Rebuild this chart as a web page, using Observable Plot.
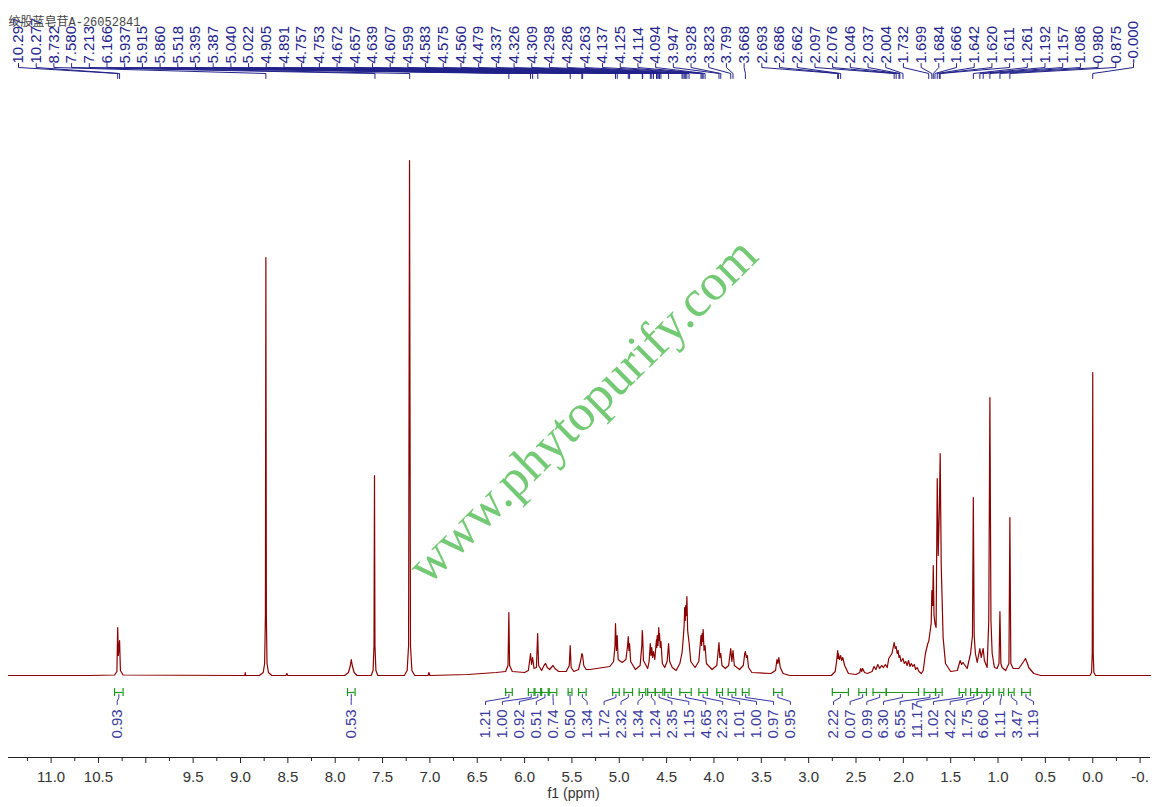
<!DOCTYPE html>
<html><head><meta charset="utf-8">
<script src="https://cdn.jsdelivr.net/npm/d3@7"></script>
<script src="https://cdn.jsdelivr.net/npm/@observablehq/plot@0.6"></script>
<style>body{margin:0;background:#fff}</style>
</head><body><div id="chart"></div>
<script>
const title = "绞股蓝皂苷A-26052841";
const watermark = "www.phytopurify.com";
const axisLabel = "f1 (ppm)";
const axisTicks = [11.0,10.5,10.0,9.5,9.0,8.5,8.0,7.5,7.0,6.5,6.0,5.5,5.0,4.5,4.0,3.5,3.0,2.5,2.0,1.5,1.0,0.5,0.0,-0.5];
const axisTickLabels = ["11.0","10.5","","9.5","9.0","8.5","8.0","7.5","7.0","6.5","6.0","5.5","5.0","4.5","4.0","3.5","3.0","2.5","2.0","1.5","1.0","0.5","0.0","-0."];
const minorTicks = [11.25,10.75,10.25,9.75,9.25,8.75,8.25,7.75,7.25,6.75,6.25,5.75,5.25,4.75,4.25,3.75,3.25,2.75,2.25,1.75,1.25,0.75,0.25,-0.25];

const peakLabels = ["10.297","10.277","8.732","7.580","7.213","6.166","5.937","5.915","5.860","5.518","5.395","5.387","5.040","5.022","4.905","4.891","4.757","4.753","4.672","4.657","4.639","4.607","4.599","4.583","4.575","4.560","4.479","4.337","4.326","4.309","4.298","4.286","4.263","4.137","4.125","4.114","4.094","3.947","3.928","3.823","3.799","3.668","2.693","2.686","2.662","2.097","2.076","2.046","2.037","2.004","1.732","1.699","1.684","1.666","1.642","1.620","1.611","1.261","1.192","1.157","1.086","0.980","0.875","-0.000"];

const integralValues = ["0.93","0.53","1.21","1.00","0.92","0.51","0.74","0.50","1.34","1.72","2.32","1.34","1.24","2.35","1.15","4.65","2.23","1.01","1.00","0.97","0.95","2.22","0.07","0.99","6.30","6.55","11.17","1.02","4.22","1.75","6.60","1.11","3.47","1.19"];
const integralFrom = [10.33,7.87,6.20,5.96,5.89,5.82,5.74,5.54,5.43,5.07,4.95,4.79,4.70,4.62,4.52,4.36,4.16,3.97,3.85,3.70,3.37,2.75,2.47,2.32,2.18,1.78,1.66,1.41,1.29,1.22,1.12,0.99,0.89,0.75];
const integralTo   = [10.24,7.79,6.13,5.90,5.83,5.75,5.66,5.50,5.35,5.00,4.86,4.72,4.62,4.54,4.45,4.24,4.07,3.91,3.77,3.63,3.28,2.58,2.39,2.18,1.84,1.66,1.59,1.34,1.22,1.12,1.05,0.94,0.83,0.66];

// spectrum vertices: [ppm, intensity]
const spectrum = [
[11.45,0],[10.6,0],[10.33,0.5],[10.305,4],[10.297,48],[10.290,20],[10.277,35],[10.268,5],[10.24,0.5],[9.0,0],[8.955,0],[8.95,3],[8.945,0],
[8.80,0],[8.76,3],[8.745,12],[8.737,60],[8.732,418],[8.727,60],[8.72,12],[8.705,3],[8.67,0],
[8.52,0],[8.51,2],[8.50,0],
[7.90,0],[7.86,3],[7.84,10],[7.83,16],[7.82,10],[7.80,3],[7.77,0],
[7.62,0],[7.60,5],[7.59,30],[7.585,200],[7.58,30],[7.57,5],[7.55,0],
[7.27,0],[7.24,5],[7.225,30],[7.215,515],[7.205,30],[7.19,5],[7.16,0],
[7.02,0],[7.01,3],[7.0,0],[6.6,1],
[6.3,3],[6.20,4],[6.175,10],[6.166,63],[6.158,10],[6.13,4],[6.0,3],[5.96,5],[5.945,16],[5.937,22],[5.926,11],[5.915,18],[5.90,7],[5.875,8],[5.862,42],[5.852,10],[5.82,5],[5.795,10],[5.778,12],[5.76,8],[5.735,6],[5.70,10],[5.68,7],[5.64,4],[5.56,4],[5.528,10],[5.518,30],[5.508,8],[5.48,4],[5.43,6],[5.405,16],[5.395,22],[5.387,20],[5.375,10],[5.35,6],[5.31,6],[5.10,9],
[5.06,14],[5.045,30],[5.040,52],[5.030,25],[5.022,40],[5.012,16],[4.97,13],[4.93,16],[4.912,30],[4.905,39],[4.898,25],[4.891,32],[4.88,14],[4.83,6],[4.78,10],[4.762,30],[4.757,45],[4.753,40],[4.745,15],[4.70,7],[4.685,14],[4.672,32],[4.665,20],[4.657,28],[4.648,18],[4.639,24],[4.625,16],[4.607,36],[4.603,28],[4.599,40],[4.591,30],[4.583,48],[4.579,35],[4.575,42],[4.567,28],[4.560,34],[4.545,12],[4.52,8],[4.495,14],[4.479,32],[4.468,14],[4.44,8],[4.40,5],[4.36,12],[4.337,23],[4.326,35],[4.315,50],[4.309,68],[4.303,55],[4.298,70],[4.292,60],[4.286,79],[4.278,45],[4.263,33],[4.245,14],[4.20,8],[4.16,14],[4.137,40],[4.130,30],[4.125,42],[4.119,34],[4.114,46],[4.105,25],[4.094,30],[4.08,12],[4.02,6],[3.97,10],[3.947,33],[3.938,18],[3.928,22],[3.915,10],[3.88,7],[3.845,10],[3.823,27],[3.811,14],[3.799,25],[3.785,10],[3.73,6],[3.69,10],[3.675,22],[3.668,24],[3.658,18],[3.648,20],[3.635,8],[3.60,3],[3.40,2],[3.35,5],[3.335,16],[3.325,12],[3.315,18],[3.30,8],[3.27,2],[3.2,0],
[2.76,0],[2.72,4],[2.705,14],[2.693,25],[2.689,17],[2.686,22],[2.675,16],[2.662,20],[2.652,15],[2.64,18],[2.62,10],[2.58,2],[2.50,1],[2.46,3],[2.45,7],[2.44,4],[2.43,7],[2.41,3],[2.38,2],[2.33,4],[2.31,9],[2.29,6],[2.27,11],[2.25,7],[2.23,10],[2.21,8],[2.19,11],[2.17,8],[2.154,17],[2.12,22],[2.097,33],[2.086,27],[2.076,29],[2.065,22],[2.055,25],[2.046,18],[2.037,20],[2.025,14],[2.004,17],[1.99,12],[1.975,14],[1.96,10],[1.945,15],[1.93,9],[1.915,12],[1.90,9],[1.885,11],[1.87,6],[1.855,8],[1.835,4],[1.81,2],[1.79,5],[1.767,22],[1.742,32],[1.732,34],[1.706,52],[1.699,85],[1.690,70],[1.684,110],[1.676,60],[1.666,52],[1.654,48],[1.642,197],[1.632,120],[1.620,165],[1.611,222],[1.600,110],[1.58,38],[1.555,12],[1.50,4],[1.43,5],[1.40,15],[1.385,11],[1.37,13],[1.326,7],[1.29,22],[1.27,40],[1.261,178],[1.252,40],[1.239,22],[1.22,13],[1.192,27],[1.178,18],[1.157,27],[1.144,15],[1.115,8],[1.098,55],[1.086,278],[1.075,55],[1.062,22],[1.038,8],[1.01,7],[0.99,12],[0.980,64],[0.970,12],[0.957,8],[0.92,5],[0.885,12],[0.875,158],[0.865,12],[0.84,7],[0.78,7],[0.73,14],[0.71,17],[0.69,12],[0.676,8],[0.623,2],[0.55,0],
[0.03,0],[0.012,3],[0.005,22],[0.000,303],[-0.005,22],[-0.012,3],[-0.03,0],[-0.61,0]
];

// ---- layout ----
const W = 1161, H = 807;
const xDom = [11.45, -0.61], xRng = [8, 1150];
const xs = d3.scaleLinear().domain(xDom).range(xRng);
const BASE = 675;
const v = py => BASE - py;          // pixel row -> y value (1 unit = 1 px)
const px2x = p => xs.invert(p);

const NAVY = "#22228a", GREEN = "#1e961e", RED = "#8b0000";

// peak labels evenly spread across the top
const pStep = (1133 - 18) / (peakLabels.length - 1);
const peakRows = peakLabels.map((t, i) => ({t, i, lx: px2x(18 + i * pStep), px: +t}));
const peakLinks = peakRows.flatMap(d => [
  {i: d.i, x: d.lx, y: v(63)}, {i: d.i, x: d.lx, y: v(67)},
  {i: d.i, x: d.px, y: v(73)}, {i: d.i, x: d.px, y: v(78)}
]);

// integrals
function labelPx(i) {
  if (i === 0) return 116.7;
  if (i === 1) return 350.7;
  if (i <= 20) return 485 + (i - 2) * 16.94;
  return 833 + (i - 21) * 16.67;
}
const ints = integralValues.map((t, i) => ({
  t, i, a: integralFrom[i], b: integralTo[i], c: (integralFrom[i] + integralTo[i]) / 2, lx: px2x(labelPx(i))
}));
const intLinks = ints.flatMap(d => [
  {i: d.i, x: d.c, y: v(694)}, {i: d.i, x: d.c, y: v(697)},
  {i: d.i, x: d.lx, y: v(701)}, {i: d.i, x: d.lx, y: v(704)}
]);
const caps = ints.flatMap(d => [d.a, d.b]);

const chart = Plot.plot({
  width: W, height: H,
  marginLeft: xRng[0], marginRight: W - xRng[1], marginTop: 0, marginBottom: 50,
  style: {fontFamily: "'Liberation Sans', Arial, sans-serif", background: "#fff", color: "#333"},
  x: {domain: xDom, range: xRng, axis: null},
  y: {domain: [0, 515], range: [BASE, 160], axis: null},
  marks: [
    // watermark
    Plot.text([watermark], {x: px2x(582), y: v(410), text: d => d, rotate: -44.6, fontSize: 52,
      fontFamily: "'Liberation Serif', 'DejaVu Serif', serif", fill: "#5cbf5c", fillOpacity: 0.85}),
    // spectrum
    Plot.line(spectrum, {x: d => d[0], y: d => d[1], stroke: RED, strokeWidth: 1.2, curve: "linear"}),
    // x axis
    Plot.ruleY([v(757)], {x1: xDom[0], x2: xDom[1], stroke: "#222", strokeWidth: 1.2}),
    Plot.ruleX(axisTicks, {x: d => d, y1: v(757), y2: v(763), stroke: "#222"}),
    Plot.ruleX(minorTicks, {x: d => d, y1: v(757), y2: v(761), stroke: "#222"}),
    Plot.text(axisTicks, {x: d => d, y: v(777), text: (d, i) => axisTickLabels[i], fontSize: 15, fill: "#333"}),
    Plot.text([axisLabel], {x: px2x(573), y: v(793), text: d => d, fontSize: 14, fill: "#333"}),
    // peak labels
    Plot.line(peakLinks, {x: "x", y: "y", z: "i", stroke: NAVY, strokeWidth: 1}),
    Plot.text(peakRows, {x: "lx", y: v(63), text: "t", rotate: -90, textAnchor: "start", fontSize: 15, fill: NAVY}),
    // integrals
    Plot.line(intLinks, {x: "x", y: "y", z: "i", stroke: "#3434a4", strokeWidth: 1}),
    Plot.ruleY(ints, {y: v(692), x1: "a", x2: "b", stroke: GREEN, strokeWidth: 1.2}),
    Plot.ruleX(caps, {x: d => d, y1: v(688), y2: v(696), stroke: GREEN, strokeWidth: 1.2}),
    Plot.text(ints, {x: "lx", y: v(738), text: "t", rotate: -90, textAnchor: "start", fontSize: 15, fill: "#3a3a9c"}),
    // title
    Plot.text([title], {frameAnchor: "top-left", dx: 0, dy: 17, text: d => d, textAnchor: "start", fontSize: 12,
      fontFamily: "'Liberation Mono', 'Noto Sans CJK SC', monospace", fill: "#444"})
  ]
});
document.getElementById("chart").appendChild(chart);
</script>
</body></html>
